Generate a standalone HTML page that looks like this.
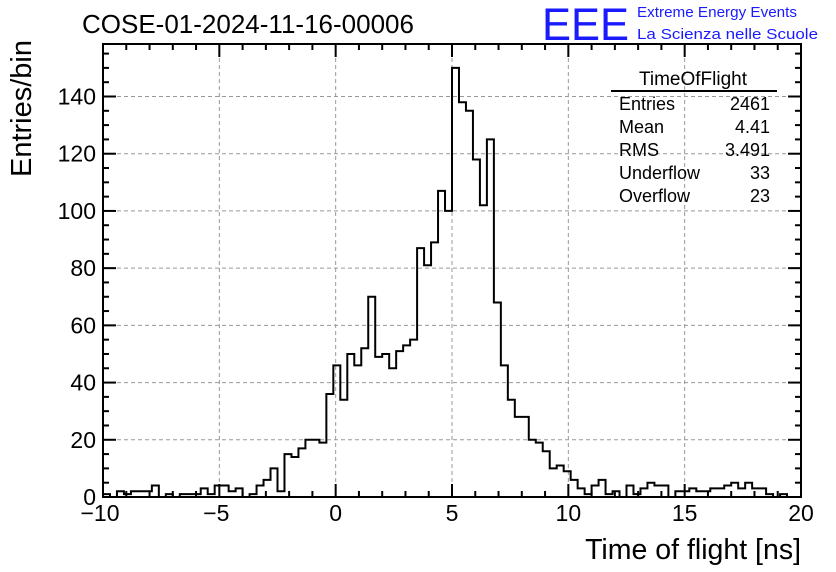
<!DOCTYPE html>
<html><head><meta charset="utf-8"><style>
body{margin:0;background:#fff;}
svg{display:block;font-family:"Liberation Sans",sans-serif;}
</style></head><body>
<svg id="c" width="836" height="572" viewBox="0 0 836 572">
<rect width="836" height="572" fill="#fff"/>
<text x="82" y="33" font-size="26">COSE-01-2024-11-16-00006</text>
<text x="542" y="40" font-size="45" fill="#1a1aff" textLength="87" lengthAdjust="spacingAndGlyphs">EEE</text>
<text x="637" y="17" font-size="15" fill="#1a1aff" textLength="160" lengthAdjust="spacingAndGlyphs">Extreme Energy Events</text>
<text x="637" y="39" font-size="15" fill="#1a1aff" textLength="181" lengthAdjust="spacingAndGlyphs">La Scienza nelle Scuole</text>
<g id="grid"></g>
<g id="ticks"></g>
<path id="hist" fill="none" stroke="#000" stroke-width="2"/>
<rect x="103" y="44" width="698" height="453" fill="none" stroke="#000" stroke-width="2"/>
<g id="xl" font-size="23" text-anchor="middle"></g>
<g id="yl" font-size="23" text-anchor="end"></g>
<text x="801" y="559" font-size="28.5" text-anchor="end">Time of flight [ns]</text>
<text transform="translate(31,40) rotate(-90)" font-size="29" text-anchor="end">Entries/bin</text>
<g font-size="18">
<text x="693" y="85" font-size="19" text-anchor="middle">TimeOfFlight</text>
<line x1="611" y1="91" x2="777" y2="91" stroke="#000" stroke-width="2"/>
<g id="stats"></g>
</g>
</svg>
<script>
const xTicks=[-10,-5,0,5,10,15,20];
const yTicks=[0,20,40,60,80,100,120,140];
const binLow=-10, binWidth=0.3;
const counts=[1,0,2,1,2,2,2,4,0,1,0,1,1,1,3,1,4,4,2,3,0,1,4,6,10,2,15,14,17,20,20,19,36,46,34,50,46,52,70,49,50,45,51,53,55,87,81,89,107,100,150,138,135,118,102,125,68,46,34,28,28,20,19,16,10,11,9,6,3,1,4,6,1,2,0,4,1,3,5,4,4,0,2,2,3,2,2,3,3,4,5,3,5,3,3,1,0,1,0,0];
const statNames=["Entries","Mean","RMS","Underflow","Overflow"];
const statValues=["2461","4.41","3.491","33","23"];
const X=v=>103+(v+10)*698/30;
const Y=v=>497-v*402.5/140.7;
const NS="http://www.w3.org/2000/svg";
function mk(t,p,a){const e=document.createElementNS(NS,t);for(const k in a)e.setAttribute(k,a[k]);p.appendChild(e);return e;}
const grid=document.getElementById('grid'),ticks=document.getElementById('ticks');
xTicks.forEach(v=>{
 if(v>-10&&v<20){const g=mk('line',grid,{x1:X(v),x2:X(v),y1:44,y2:497,stroke:'#999','stroke-dasharray':'4,3'});
 
 }
 const t=mk('text',document.getElementById('xl'),{x:X(v)+(v<0?-3:0),y:521});t.textContent=v<0?'\u2212'+(-v):v;
 
 
});
for(let v=-10;v<=20;v+=1){const L=v%5===0?13:6;
 mk('line',ticks,{x1:X(v),x2:X(v),y1:497,y2:497-L,stroke:'#000','stroke-width':2});
 mk('line',ticks,{x1:X(v),x2:X(v),y1:44,y2:44+L,stroke:'#000','stroke-width':2});}
yTicks.forEach(v=>{
 if(v>0){const g=mk('line',grid,{x1:103,x2:801,y1:Y(v),y2:Y(v),stroke:'#999','stroke-dasharray':'4,3'});
 
 }
 const t=mk('text',document.getElementById('yl'),{x:96,y:Y(v)+8});t.textContent=v;
 
 
});
for(let v=0;Y(v)>=44;v+=5){const L=v%20===0?13:6;
 mk('line',ticks,{x1:103,x2:103+L,y1:Y(v),y2:Y(v),stroke:'#000','stroke-width':2});
 mk('line',ticks,{x1:801,x2:801-L,y1:Y(v),y2:Y(v),stroke:'#000','stroke-width':2});}
let d='M'+X(binLow)+','+Y(0);
counts.forEach((c,i)=>{const a=X(binLow+i*binWidth),b=X(binLow+(i+1)*binWidth);d+=' L'+a+','+Y(c)+' L'+b+','+Y(c);});
d+=' L'+X(binLow+counts.length*binWidth)+','+Y(0);
document.getElementById('hist').setAttribute('d',d);
const st=document.getElementById('stats');
statNames.forEach((n,i)=>{const y=110+i*23;
 const a=mk('text',st,{x:619,y:y});a.textContent=n;
 
 
 const b=mk('text',st,{x:770,y:y,'text-anchor':'end'});b.textContent=statValues[i];
 
 
});
</script>
</body></html>
